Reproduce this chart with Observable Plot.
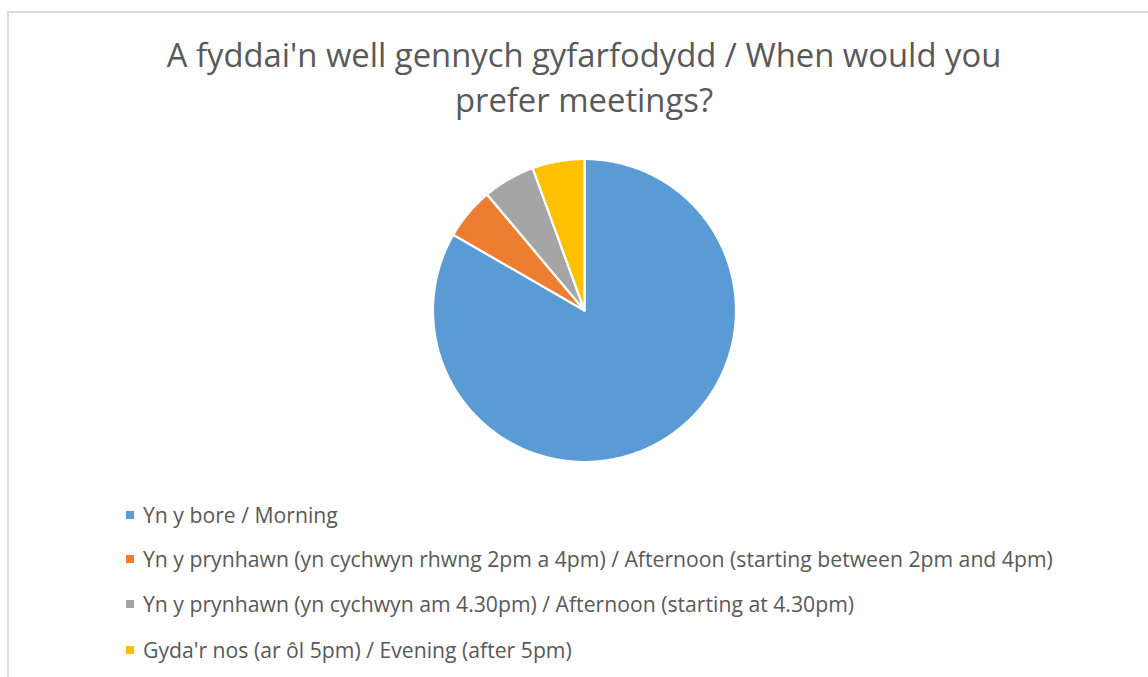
<!DOCTYPE html>
<html>
<head>
<meta charset="utf-8">
<script src="https://cdn.jsdelivr.net/npm/d3@7"></script>
<script src="https://cdn.jsdelivr.net/npm/@observablehq/plot@0.6"></script>
<style>
  html, body { margin: 0; padding: 0; background: #fff; }
  #page { position: relative; width: 1148px; height: 677px; overflow: hidden; font-family: "Open Sans", "Noto Sans", sans-serif; color: #595959; }
  #frame { position: absolute; left: 7px; top: 11px; width: 1200px; height: 720px; border: 2px solid #dcdcdc; box-sizing: border-box; }
  #title { position: absolute; left: 0; width: 1168px; top: 32px; text-align: center; font-size: 32.8px; line-height: 45px; }
  #chart { position: absolute; left: 0; top: 0; }
  .lg { position: absolute; left: 126px; font-size: 21.2px; white-space: nowrap; }
  .lg i { display: inline-block; width: 8px; height: 8px; margin-right: 9px; vertical-align: middle; position: relative; top: -2px; }
</style>
</head>
<body>
<div id="page">
  <div id="frame"></div>
  <div id="chart"></div>
  <div id="title"></div>
  <div id="legend"></div>
</div>
<script>
const title = ["A fyddai'n well gennych gyfarfodydd / When would you", "prefer meetings?"];
const categories = [
  "Yn y bore / Morning",
  "Yn y prynhawn (yn cychwyn rhwng 2pm a 4pm) / Afternoon (starting between 2pm and 4pm)",
  "Yn y prynhawn (yn cychwyn am 4.30pm) / Afternoon (starting at 4.30pm)",
  "Gyda'r nos (ar ôl 5pm) / Evening (after 5pm)"
];
const values = [15, 1, 1, 1];
const colors = ["#5B9BD5", "#ED7D31", "#A5A5A5", "#FFC000"];

document.getElementById("title").innerHTML = title.join("<br>");

const arcs = d3.pie().sort(null).value(d => d.value)(categories.map((c, i) => ({category: c, value: values[i]})));
const poly = [];
for (const a of arcs) {
  const c = a.data.category;
  poly.push({category: c, x: 0, y: 0});
  const n = Math.max(4, Math.ceil((a.endAngle - a.startAngle) / (Math.PI / 180)));
  for (let k = 0; k <= n; k++) {
    const t = a.startAngle + (a.endAngle - a.startAngle) * k / n;
    poly.push({category: c, x: Math.sin(t), y: Math.cos(t)});
  }
  poly.push({category: c, x: 0, y: 0});
}

const cx = 584, cy = 310, r = 151.5;
const chart = Plot.plot({
  width: 1148,
  height: 677,
  margin: 0,
  x: {domain: [-1, 1], range: [cx - r, cx + r], axis: null},
  y: {domain: [-1, 1], range: [cy + r, cy - r], axis: null},
  color: {domain: categories, range: colors},
  style: {background: "transparent"},
  marks: [
    Plot.line(poly, {x: "x", y: "y", z: "category", fill: "category", stroke: "white", strokeWidth: 2.2, strokeLinejoin: "round", curve: "linear"})
  ]
});
document.getElementById("chart").appendChild(chart);

const lg = document.getElementById("legend");
const rowY = [515, 559, 604, 650];
categories.forEach((c, i) => {
  const d = document.createElement("div");
  d.className = "lg";
  d.style.top = (rowY[i] - 15) + "px";
  d.innerHTML = `<i style="background:${colors[i]}"></i>${c}`;
  lg.appendChild(d);
});
</script>
</body>
</html>
